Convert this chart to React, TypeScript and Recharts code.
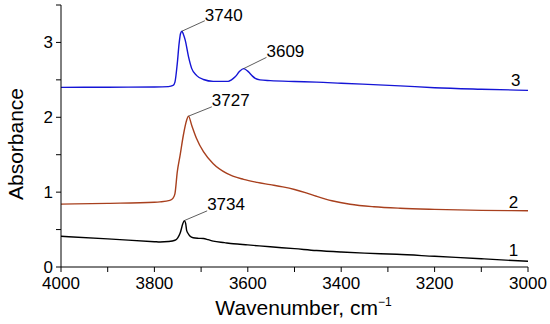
import React from "react";
import {
  LineChart,
  Line,
  XAxis,
  YAxis,
  ReferenceLine,
  ReferenceDot,
} from "recharts";

// [wavenumber cm-1, absorbance]
const spectrum1: [number, number][] = [
  [4000, 0.41], [3900, 0.376], [3800, 0.338], [3788, 0.334], [3770, 0.34],
  [3756, 0.357], [3750, 0.39], [3745, 0.45], [3739, 0.58], [3736, 0.62],
  [3733, 0.58], [3731, 0.49], [3727, 0.44], [3724, 0.415], [3717, 0.39],
  [3705, 0.383], [3695, 0.38], [3685, 0.365], [3674, 0.345], [3650, 0.325],
  [3631, 0.31], [3600, 0.295], [3552, 0.27], [3500, 0.245], [3453, 0.22],
  [3400, 0.2], [3350, 0.185], [3281, 0.17], [3200, 0.143], [3100, 0.11],
  [3000, 0.076],
];

const spectrum2: [number, number][] = [
  [4000, 0.84], [3900, 0.85], [3800, 0.865], [3788, 0.87], [3767, 0.89],
  [3760, 0.92], [3756, 0.98], [3751, 1.27], [3745, 1.49], [3738, 1.76],
  [3731, 1.96], [3727, 2.015], [3720, 1.89], [3710, 1.72], [3695, 1.54],
  [3674, 1.38], [3645, 1.25], [3609, 1.17], [3580, 1.13], [3552, 1.1],
  [3525, 1.07], [3500, 1.035], [3475, 0.99], [3453, 0.945], [3420, 0.885],
  [3381, 0.838], [3330, 0.805], [3274, 0.785], [3200, 0.77], [3100, 0.757],
  [3000, 0.752],
];

const spectrum3: [number, number][] = [
  [4000, 2.4], [3900, 2.402], [3800, 2.405], [3770, 2.41], [3760, 2.425],
  [3756, 2.47], [3751, 2.72], [3747, 2.99], [3744, 3.12], [3741, 3.15],
  [3738, 3.11], [3734, 3.03], [3727, 2.81], [3720, 2.65], [3710, 2.56],
  [3695, 2.505], [3674, 2.48], [3642, 2.48], [3635, 2.5], [3627, 2.54],
  [3618, 2.61], [3609, 2.65], [3599, 2.61], [3590, 2.55], [3584, 2.52],
  [3574, 2.5], [3552, 2.49], [3500, 2.478], [3453, 2.47], [3400, 2.455],
  [3274, 2.42], [3200, 2.395], [3100, 2.375], [3000, 2.36],
];

// peak labels: text, peak point, end of leader (where the text starts)
const peakLabels = [
  { text: "3740", peak: [3741, 3.15], end: [3692, 3.29], textY: 3.365 },
  { text: "3609", peak: [3609, 2.65], end: [3560, 2.8], textY: 2.886 },
  { text: "3727", peak: [3727, 2.015], end: [3677, 2.14], textY: 2.23 },
  { text: "3734", peak: [3736, 0.62], end: [3687, 0.75], textY: 0.838 },
];

const seriesLabels = [
  { text: "3", x: 3026, y: 2.5 },
  { text: "2", x: 3031, y: 0.865 },
  { text: "1", x: 3031, y: 0.223 },
];

const xTicks = [3000, 3100, 3200, 3300, 3400, 3500, 3600, 3700, 3800, 3900, 4000];
const yTicks = [0, 0.5, 1, 1.5, 2, 2.5, 3, 3.5];

const FONT = "Arial, 'Liberation Sans', sans-serif";

const toRows = (s: [number, number][]) => s.map(([wn, a]) => ({ wn, a }));

const XTitle = (props: any) => {
  const vb = props.viewBox || { x: 61, y: 267, width: 467, height: 57 };
  return (
    <text
      x={vb.x + vb.width / 2 + 9}
      y={vb.y + 48}
      textAnchor="middle"
      fontSize={21}
      fontFamily={FONT}
      fill="#000"
    >
      Wavenumber, cm
      <tspan dy={-9} fontSize={12}>
        −1
      </tspan>
    </text>
  );
};

const YTitle = (props: any) => {
  const vb = props.viewBox || { x: 0, y: 5, width: 61, height: 262 };
  const cx = 23;
  const cy = vb.y + vb.height / 2 + 8;
  return (
    <text
      x={cx}
      y={cy}
      transform={`rotate(-90, ${cx}, ${cy})`}
      textAnchor="middle"
      fontSize={21}
      fontFamily={FONT}
      fill="#000"
    >
      Absorbance
    </text>
  );
};

export default function App() {
  return (
    <div style={{ position: "absolute", left: 0, top: 0, background: "#fff" }}>
      <LineChart
        width={550}
        height={324}
        margin={{ top: 5, right: 22, bottom: 0, left: 0 }}
      >
        <XAxis
          type="number"
          dataKey="wn"
          domain={[3000, 4000]}
          reversed
          ticks={xTicks}
          interval={0}
          tickFormatter={(v: number) => (v % 200 === 0 ? String(v) : "")}
          height={57}
          tickSize={5}
          tickMargin={5}
          axisLine={{ stroke: "#000" }}
          tickLine={{ stroke: "#000" }}
          tick={{ fill: "#000", fontSize: 17, fontFamily: FONT }}
          label={<XTitle />}
        />
        <YAxis
          type="number"
          domain={[0, 3.5]}
          ticks={yTicks}
          interval={0}
          tickFormatter={(v: number) => (Number.isInteger(v) && v < 3.5 ? String(v) : "")}
          width={61}
          tickSize={5}
          tickMargin={3}
          axisLine={{ stroke: "#000" }}
          tickLine={{ stroke: "#000" }}
          tick={{ fill: "#000", fontSize: 17, fontFamily: FONT }}
          label={<YTitle />}
        />
        <Line
          data={toRows(spectrum1)}
          dataKey="a"
          type="monotone"
          stroke="#000"
          strokeWidth={1.4}
          dot={false}
          isAnimationActive={false}
        />
        <Line
          data={toRows(spectrum2)}
          dataKey="a"
          type="monotone"
          stroke="#a8401e"
          strokeWidth={1.4}
          dot={false}
          isAnimationActive={false}
        />
        <Line
          data={toRows(spectrum3)}
          dataKey="a"
          type="monotone"
          stroke="#1515d6"
          strokeWidth={1.4}
          dot={false}
          isAnimationActive={false}
        />
        {peakLabels.map((p) => (
          <ReferenceLine
            key={`lead-${p.text}`}
            segment={[
              { x: p.peak[0], y: p.peak[1] },
              { x: p.end[0], y: p.end[1] },
            ]}
            stroke="#333"
            strokeWidth={0.8}
          />
        ))}
        {peakLabels.map((p) => (
          <ReferenceDot
            key={`txt-${p.text}`}
            x={p.end[0]}
            y={p.textY}
            r={0}
            fill="none"
            stroke="none"
            label={{
              value: p.text,
              position: "right",
              offset: 0,
              fill: "#000",
              fontSize: 17,
              fontFamily: FONT,
            }}
          />
        ))}
        {seriesLabels.map((s) => (
          <ReferenceDot
            key={`ser-${s.text}`}
            x={s.x}
            y={s.y}
            r={0}
            fill="none"
            stroke="none"
            label={{
              value: s.text,
              position: "center",
              fill: "#000",
              fontSize: 17,
              fontFamily: FONT,
            }}
          />
        ))}
      </LineChart>
    </div>
  );
}
